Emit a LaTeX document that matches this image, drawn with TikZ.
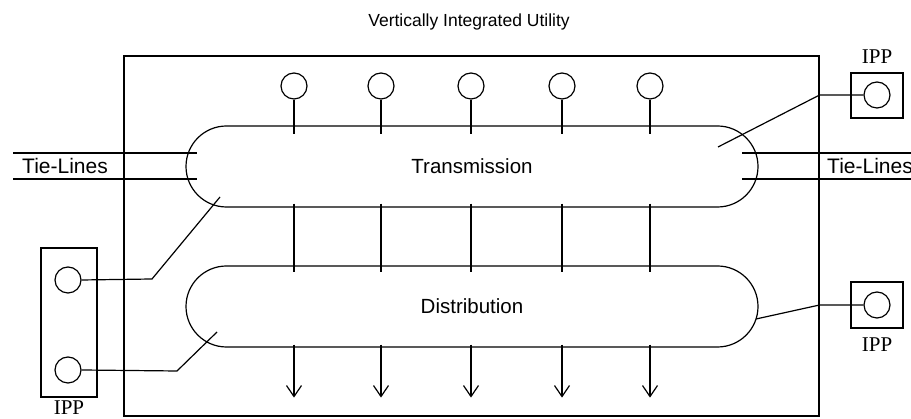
\documentclass[tikz,border=0pt]{standalone}
\usepackage{fontspec}
\setmainfont{Liberation Sans}
\newfontfamily\ippfont{Liberation Serif}
\usetikzlibrary{shapes.misc, arrows.meta, positioning, calc}
\tikzset{
  wire/.style={line width=1.2pt},
  bus/.style={rounded rectangle, draw, wire, minimum width=572pt, minimum height=81pt,
              inner sep=0pt, font=\fontsize{20.5}{24}\selectfont},
  gen/.style={circle, draw, wire, minimum size=26pt, inner sep=0pt},
  ippbox/.style={rectangle, draw, wire, inner sep=0pt},
  ipplabel/.style={font=\ippfont\fontsize{21}{24}\selectfont, inner sep=0pt},
  tie/.style={font=\fontsize{21}{24}\selectfont, inner sep=0pt, anchor=west},
  arr/.style={wire, -{Straight Barb[length=11pt, width=15pt]}},
}
\begin{document}
\begin{tikzpicture}[x=1pt, y=1pt]
  \useasboundingbox (0,0) rectangle (911,419);
  \node[font=\fontsize{17.5}{20}\selectfont] (title) at (469,397) {Vertically Integrated Utility};
  \node[ippbox, minimum width=695pt, minimum height=360pt] (frame) at (471.5,183) {};
  \node[bus] (trans) at (472,252.5) {Transmission};
  \node[bus] (dist) at (472,112.5) {Distribution};
  % generators, links between the buses, loads
  \foreach \x [count=\i] in {294,381,471,562,650} {
    \node[gen] (g\i) at (\x,333) {};
    \draw[wire] (g\i) -- ($(g\i |- trans.north)+(0,-9)$);
    \draw[wire] ($(g\i |- trans.south)+(0,4)$) -- ($(g\i |- dist.north)+(0,-7)$);
    \draw[arr] ($(g\i |- dist.south)+(0,3)$) -- ++(0,-53);
  }
  % tie-lines
  \draw[wire] (13,266) -- (197,266);
  \draw[wire] (13,240) -- (197,240);
  \node[tie] (tieW) at (22,253) {Tie-Lines};
  \draw[wire] (742,266) -- (911,266);
  \draw[wire] (742,240) -- (911,240);
  \node[tie] (tieE) at (827,253) {Tie-Lines};
  % IPP top right
  \node[ippbox, minimum width=52pt, minimum height=45pt] (ippA) at (877,323.5) {};
  \node[gen] (ippAg) at (877,324) {};
  \node[ipplabel] (ippAl) at (877,362) {IPP};
  \coordinate (ippAend) at (718,272);
  \draw[wire] (ippAg.west) -- (ippAg.west -| frame.east) -- (ippAend);
  % IPP bottom right
  \node[ippbox, minimum width=52pt, minimum height=46pt] (ippB) at (877,114) {};
  \node[gen] (ippBg) at (877,114) {};
  \node[ipplabel] (ippBl) at (877,74) {IPP};
  \coordinate (ippBend) at (756,100);
  \draw[wire] (ippBg.west) -- (ippBg.west -| frame.east) -- (ippBend);
  % IPP left
  \node[ippbox, minimum width=56pt, minimum height=149pt] (ippC) at (69,96.5) {};
  \node[gen] (ippCg1) at (68,139) {};
  \node[gen] (ippCg2) at (68,49) {};
  \node[ipplabel] (ippCl) at (69,11) {IPP};
  \coordinate (kneeC1) at (152,140);
  \coordinate (kneeC2) at (177,48);
  \draw[wire] (ippCg1.east) -- (kneeC1) -- (220,222);
  \draw[wire] (ippCg2.east) -- (kneeC2) -- (217,87);
\end{tikzpicture}
\end{document}
